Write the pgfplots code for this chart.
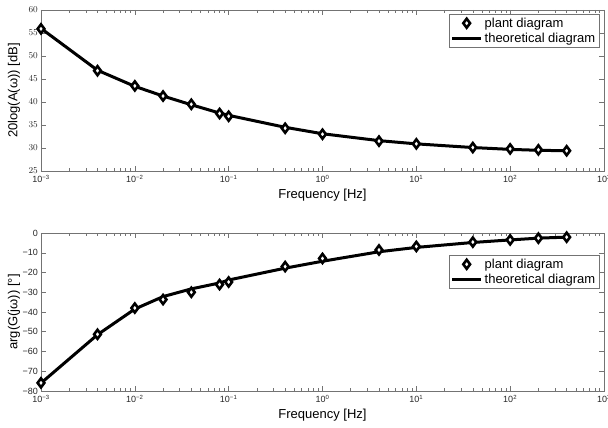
\documentclass[border=0pt]{standalone}
\usepackage{fontspec}
\setmainfont{Liberation Sans}
\usepackage{pgfplots}
\pgfplotsset{compat=1.18}

\pgfplotsset{
  every axis/.append style={
    scale only axis, width=563pt,
    xmin=1e-3, xmax=1e3,
    axis line style={black!55, line width=0.5pt},
    every tick/.style={black!55, line width=0.5pt},
    major tick length=5pt, minor tick length=3pt,
    tick label style={font=\fontsize{9}{10}\selectfont, text=black!85},
    xticklabel style={anchor=base, inner sep=0pt, yshift=-12pt},
    yticklabel style={anchor=east, inner sep=0pt, xshift=-3pt},
    label style={font=\fontsize{13}{15}\selectfont},
    xlabel style={at={(axis description cs:0.5,0)}, anchor=base, yshift=-28pt},
    ylabel style={at={(axis description cs:-0.048,0.5)}, anchor=center},
    legend cell align=left,
    legend style={draw=black!55, fill=white, anchor=north east,
                  font=\fontsize{13}{14}\selectfont, inner sep=1.5pt},
  },
}

\begin{document}
\begin{tikzpicture}
\path[use as bounding box] (-41pt,10pt) rectangle (567pt,-418pt);

% magnitude
\begin{axis}[xmode=log, at={(0pt,0pt)}, anchor=north west, height=161pt,
  xtick={1e-3,1e-2,1e-1,1,1e1,1e2,1e3},
  xticklabels={10\textsuperscript{−3},10\textsuperscript{−2},10\textsuperscript{−1},10\textsuperscript{0},10\textsuperscript{1},10\textsuperscript{2},10\textsuperscript{3}},
  minor xtick={2e-3,3e-3,4e-3,5e-3,6e-3,7e-3,8e-3,9e-3,
               2e-2,3e-2,4e-2,5e-2,6e-2,7e-2,8e-2,9e-2,
               2e-1,3e-1,4e-1,5e-1,6e-1,7e-1,8e-1,9e-1,
               2,3,4,5,6,7,8,9,20,30,40,50,60,70,80,90,
               200,300,400,500,600,700,800,900},
  ymin=25, ymax=60, ytick={25,30,...,60},
  xlabel={Frequency [Hz]},
  ylabel={20log(A(ω)) [dB]},
  legend image code/.code={\draw[mark repeat=2,mark phase=2,#1]
      plot coordinates {(0pt,0pt) (14.5pt,0pt) (29pt,0pt)};},
  legend style={at={(0.991,0.975)}}]
\addplot[only marks, black, mark=diamond*, mark size=4.5pt, line width=2.6pt,
  mark options={fill=white}] coordinates {
  (0.001,55.9) (0.004,46.8) (0.01,43.5) (0.02,41.3) (0.04,39.5)
  (0.08,37.5) (0.1,36.9) (0.4,34.3) (1,33.0) (4,31.5) (10,30.9)
  (40,30.1) (100,29.8) (200,29.6) (400,29.4)};
\addplot[black, line width=3pt, no marks, line join=round] coordinates {
  (0.001,56.0) (0.004,46.9) (0.01,43.4) (0.02,41.3) (0.04,39.4)
  (0.08,37.6) (0.1,37.1) (0.4,34.5) (1,33.1) (4,31.6) (10,30.9)
  (40,30.1) (100,29.7) (200,29.5) (400,29.4)};
\legend{plant diagram, theoretical diagram}
\end{axis}

% phase
\begin{axis}[xmode=log, at={(0pt,-223pt)}, anchor=north west, height=158pt,
  xtick={1e-3,1e-2,1e-1,1,1e1,1e2,1e3},
  xticklabels={10\textsuperscript{−3},10\textsuperscript{−2},10\textsuperscript{−1},10\textsuperscript{0},10\textsuperscript{1},10\textsuperscript{2},10\textsuperscript{3}},
  minor xtick={2e-3,3e-3,4e-3,5e-3,6e-3,7e-3,8e-3,9e-3,
               2e-2,3e-2,4e-2,5e-2,6e-2,7e-2,8e-2,9e-2,
               2e-1,3e-1,4e-1,5e-1,6e-1,7e-1,8e-1,9e-1,
               2,3,4,5,6,7,8,9,20,30,40,50,60,70,80,90,
               200,300,400,500,600,700,800,900},
  ymin=-80, ymax=0, ytick={-80,-70,...,0},
  yticklabels={−80,−70,−60,−50,−40,−30,−20,−10,0},
  xlabel={Frequency [Hz]},
  ylabel={arg(G(jω)) [°]},
  legend image code/.code={\draw[mark repeat=2,mark phase=2,#1]
      plot coordinates {(0pt,0pt) (14.5pt,0pt) (29pt,0pt)};},
  legend style={at={(0.991,0.86)}}]
\addplot[only marks, black, mark=diamond*, mark size=4.5pt, line width=2.6pt,
  mark options={fill=white}] coordinates {
  (0.001,-75.9) (0.004,-51.3) (0.01,-38.0) (0.02,-33.7) (0.04,-30.0)
  (0.08,-26.1) (0.1,-24.8) (0.4,-17.0) (1,-12.9) (4,-8.6) (10,-6.8)
  (40,-4.6) (100,-3.5) (200,-2.6) (400,-2.1)};
\addplot[black, line width=3pt, no marks, line join=round] coordinates {
  (0.001,-76.0) (0.004,-51.5) (0.01,-38.5) (0.02,-32.2) (0.04,-28.3)
  (0.08,-25.3) (0.1,-23.8) (0.4,-17.8) (1,-14.3) (4,-9.5) (10,-7.3)
  (40,-4.8) (100,-3.5) (200,-2.6) (400,-2.1)};
\legend{plant diagram, theoretical diagram}
\end{axis}
\end{tikzpicture}
\end{document}
